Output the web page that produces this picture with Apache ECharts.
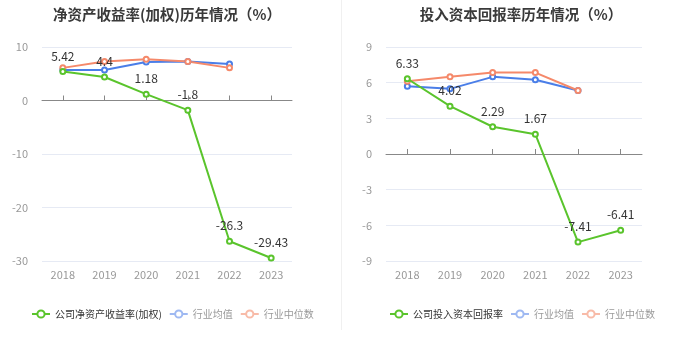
<!DOCTYPE html>
<html>
<head>
<meta charset="utf-8">
<script src="https://cdn.jsdelivr.net/npm/echarts@6/dist/echarts.min.js"></script>
<style>
html,body{margin:0;padding:0;background:#fff;}
#c{width:680px;height:349px;}
</style>
</head>
<body>
<div id="c"></div>
<script>
var years = ['2018','2019','2020','2021','2022','2023'];
// Left chart: 净资产收益率(加权)
var roeCompany = [5.42, 4.4, 1.18, -1.8, -26.3, -29.43];
var roeIndustryAvg = [5.7, 5.7, 7.2, 7.3, 6.8, null];
var roeIndustryMedian = [6.1, 7.3, 7.7, 7.3, 6.1, null];
var roeTicks = {min: -30, max: 10, interval: 10};
// Right chart: 投入资本回报率
var roicCompany = [6.33, 4.02, 2.29, 1.67, -7.41, -6.41];
var roicIndustryAvg = [5.7, 5.48, 6.49, 6.24, 5.34, null];
var roicIndustryMedian = [6.12, 6.49, 6.85, 6.85, 5.34, null];
var roicTicks = {min: -9, max: 9, interval: 3};

var names = {
  left: ['公司净资产收益率(加权)', '行业均值', '行业中位数'],
  right: ['公司投入资本回报率', '行业均值', '行业中位数']
};
var titles = ['净资产收益率(加权)历年情况（%）', '投入资本回报率历年情况（%）'];

var GREEN = '#5ac42c', BLUE = '#4a7ee8', ORANGE = '#f5896a';
var FONT = '"Noto Sans CJK SC", "Noto Sans", sans-serif';

var chart = echarts.init(document.getElementById('c'));

var grids = [
  {left: 42, right: 388, top: 47, bottom: 88},
  {left: 386, right: 38, top: 47, bottom: 88}
];

function xAxes(gi) {
  return [
    { type: 'category', gridIndex: gi, data: years, position: 'bottom',
      axisLine: {show: false, onZero: false}, axisTick: {show: false},
      axisLabel: {color: '#999', fontSize: 11, fontFamily: FONT, margin: 8} },
    { type: 'category', gridIndex: gi, data: years,
      axisLine: {show: true, onZero: true, lineStyle: {color: '#888', width: 1}},
      axisTick: {show: true, alignWithLabel: true, length: 5, lineStyle: {color: '#888'}},
      axisLabel: {show: false} }
  ];
}
function yAxis(gi, t) {
  return { type: 'value', gridIndex: gi, min: t.min, max: t.max, interval: t.interval,
    axisLine: {show: false}, axisTick: {show: false},
    axisLabel: {color: '#999', fontSize: 11, fontFamily: FONT, margin: 14},
    splitLine: {lineStyle: {color: '#e6eaf4', width: 1}} };
}

function companySeries(name, data, xi, yi) {
  return { name: name, type: 'line', xAxisIndex: xi, yAxisIndex: yi, data: data,
    symbol: 'emptyCircle', symbolSize: 5, z: 5,
    lineStyle: {color: GREEN, width: 2}, itemStyle: {color: GREEN, borderWidth: 1.5},
    label: {show: true, position: 'top', color: '#333', fontSize: 12, fontFamily: FONT, distance: 6} };
}
function indSeries(name, data, color, xi, yi) {
  return { name: name, type: 'line', xAxisIndex: xi, yAxisIndex: yi, data: data,
    symbol: 'emptyCircle', symbolSize: 5, z: 3,
    lineStyle: {color: color, width: 2}, itemStyle: {color: color, borderWidth: 1.5},
    label: {show: false} };
}

function legendData(n) {
  return [
    {name: n[0], textStyle: {color: '#333'}, itemStyle: {color: GREEN, borderColor: GREEN}, lineStyle: {color: GREEN}},
    {name: n[1], textStyle: {color: '#999'}, itemStyle: {color: '#9fb9f2', borderColor: '#9fb9f2'}, lineStyle: {color: '#9fb9f2'}},
    {name: n[2], textStyle: {color: '#999'}, itemStyle: {color: '#f8bba8', borderColor: '#f8bba8'}, lineStyle: {color: '#f8bba8'}}
  ];
}

var option = {
  animation: false,
  backgroundColor: '#fff',
  textStyle: {fontFamily: FONT},
  title: [
    {text: titles[0], left: 162, top: 2, textAlign: 'center',
      textStyle: {fontSize: 14.5, fontWeight: 'bold', color: '#3a3a3a', fontFamily: FONT}},
    {text: titles[1], left: 516, top: 2, textAlign: 'center',
      textStyle: {fontSize: 14.5, fontWeight: 'bold', color: '#3a3a3a', fontFamily: FONT}}
  ],
  legend: [
    {left: 26, top: 304, width: 310, itemWidth: 18, itemHeight: 9, itemGap: 7,
      textStyle: {fontSize: 10, fontFamily: FONT}, data: legendData(names.left)},
    {left: 384, top: 304, width: 290, itemWidth: 18, itemHeight: 9, itemGap: 7,
      textStyle: {fontSize: 10, fontFamily: FONT}, data: legendData(names.right)}
  ],
  grid: grids,
  xAxis: xAxes(0).concat(xAxes(1)),
  yAxis: [yAxis(0, roeTicks), yAxis(1, roicTicks)],
  series: [
    companySeries(names.left[0], roeCompany, 1, 0),
    indSeries(names.left[1], roeIndustryAvg, BLUE, 1, 0),
    indSeries(names.left[2], roeIndustryMedian, ORANGE, 1, 0),
    companySeries(names.right[0], roicCompany, 3, 1),
    indSeries(names.right[1], roicIndustryAvg, BLUE, 3, 1),
    indSeries(names.right[2], roicIndustryMedian, ORANGE, 3, 1)
  ],
  graphic: [
    {type: 'line', shape: {x1: 341.5, y1: 0, x2: 341.5, y2: 330}, style: {stroke: '#f0f0f0', lineWidth: 1}}
  ]
};
chart.setOption(option);
</script>
</body>
</html>
